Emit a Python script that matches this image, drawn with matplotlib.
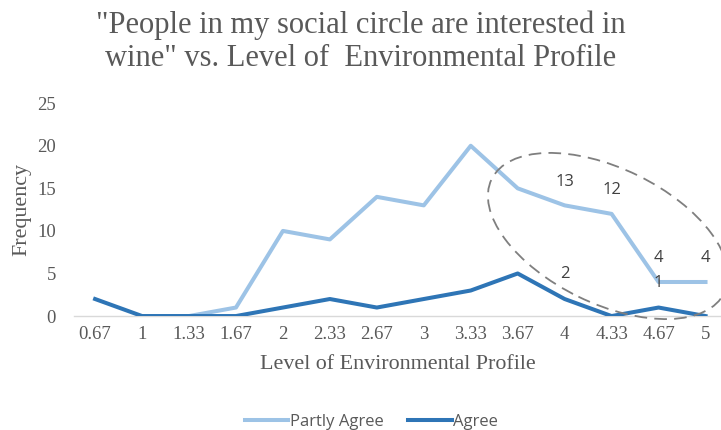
import matplotlib
matplotlib.use("Agg")
import matplotlib.pyplot as plt
import numpy as np
from matplotlib.patches import Ellipse
from matplotlib.transforms import IdentityTransform

categories = ["0.67", "1", "1.33", "1.67", "2", "2.33", "2.67", "3", "3.33", "3.67", "4", "4.33", "4.67", "5"]
partly_agree = [np.nan, 0, 0, 1, 10, 9, 14, 13, 20, 15, 13, 12, 4, 4]
agree = [2, 0, 0, 0, 1, 2, 1, 2, 3, 5, 2, 0, 1, 0]
yticks = [0, 5, 10, 15, 20, 25]

# data labels shown in the chart: category indices per series
partly_labels = [10, 11, 12, 13]
agree_labels = [10, 12]

light = "#9DC3E6"
dark = "#2E75B6"
txt = "#595959"
serif = "Liberation Serif"
sans = "Open Sans"

fig = plt.figure(figsize=(7.21, 4.30), dpi=100)
ax = fig.add_axes([0.1026, 0.265, 0.8974, 0.495])

x = np.arange(len(categories))
ax.plot(x, partly_agree, color=light, lw=2.9, solid_joinstyle="round", label="Partly Agree", zorder=3)
ax.plot(x, agree, color=dark, lw=2.9, solid_joinstyle="round", label="Agree", zorder=4)

ax.set_xlim(-0.45, 13.33)
ax.set_ylim(0, 25)
ax.set_xticks(x)
ax.set_xticklabels(categories)
ax.set_yticks(yticks)
for s in ["top", "right", "left"]:
    ax.spines[s].set_visible(False)
ax.spines["bottom"].set_color("#D9D9D9")
ax.spines["bottom"].set_linewidth(1.0)
ax.tick_params(axis="both", length=0, labelsize=13.5, labelcolor=txt)
ax.tick_params(axis="x", pad=7)
ax.tick_params(axis="y", pad=13)
for lab in ax.get_xticklabels() + ax.get_yticklabels():
    lab.set_fontfamily(serif)

ax.set_xlabel("Level of Environmental Profile", fontfamily=serif, fontsize=15.8, color=txt, labelpad=9)
ax.set_ylabel("Frequency", fontfamily=serif, fontsize=15.8, color=txt, labelpad=4)

for i in partly_labels:
    ax.annotate(f"{partly_agree[i]:g}", (x[i], partly_agree[i]), xytext=(0, 17), textcoords="offset points",
                ha="center", va="center", fontsize=12, color="#404040", fontfamily=sans, zorder=6)
for i in agree_labels:
    ax.annotate(f"{agree[i]:g}", (x[i], agree[i]), xytext=(0, 18), textcoords="offset points",
                ha="center", va="center", fontsize=12, color="#404040", fontfamily=sans, zorder=6)

ell = Ellipse((608, 430 - 236), 259, 135, angle=-26, transform=IdentityTransform(),
              fill=False, edgecolor="#7F7F7F", lw=1.3, ls=(0, (7, 4)), zorder=5, clip_on=False)
fig.patches.append(ell)

fig.text(0.5, 0.903, "\"People in my social circle are interested in\nwine\" vs. Level of  Environmental Profile",
         ha="center", va="center", fontfamily=serif, fontsize=22, color=txt, linespacing=1.15)

fig.legend(loc="center", bbox_to_anchor=(0.515, 0.018), ncol=2, frameon=False,
           prop={"family": sans, "size": 12}, labelcolor=txt, handlelength=2.6, handletextpad=0.1,
           columnspacing=1.5)

fig.savefig("out.png", dpi=100)
